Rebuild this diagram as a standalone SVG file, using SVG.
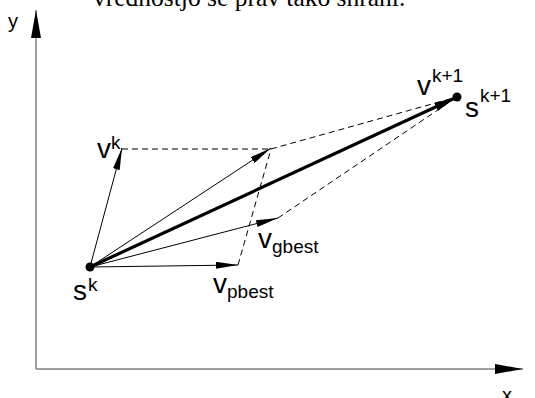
<svg xmlns="http://www.w3.org/2000/svg" width="535" height="398" viewBox="0 0 535 398">
<style>
.lbl{font-family:"Liberation Sans",Arial,sans-serif;font-size:28px;fill:#000}
.sup{font-size:19px}
.ax{font-family:"Liberation Sans",Arial,sans-serif;font-size:20px;fill:#000}
.thin{stroke:#000;stroke-width:1;fill:none}
.dash{stroke:#000;stroke-width:1;fill:none;stroke-dasharray:6 4}
.axis{stroke:#808080;stroke-width:1.5;fill:none}
</style>
<defs>
<marker id="ah" viewBox="0 0 22 7" refX="22" refY="3.5" markerWidth="22" markerHeight="7" markerUnits="userSpaceOnUse" orient="auto">
<path d="M0,0 L22,3.5 L0,7 Z" fill="#000"/>
</marker>
<marker id="ahT" viewBox="0 0 21 9" refX="21" refY="4.5" markerWidth="21" markerHeight="9" markerUnits="userSpaceOnUse" orient="auto">
<path d="M0,0 L21,4.5 L0,9 Z" fill="#000"/>
</marker>
<marker id="ahA" viewBox="0 0 28 10" refX="28" refY="5" markerWidth="28" markerHeight="10" markerUnits="userSpaceOnUse" orient="auto">
<path d="M0,0 L28,5 L0,10 Z" fill="#000"/>
</marker>
</defs>
<text x="93" y="6" font-family="'Liberation Serif','Times New Roman',serif" font-size="25.5" fill="#000">vrednostjo se prav tako shrani.</text>
<g id="axes">
<line class="axis" x1="36" y1="369" x2="36" y2="10" marker-end="url(#ahA)"/>
<line class="axis" x1="36" y1="369" x2="523" y2="369" marker-end="url(#ahA)"/>
<text class="ax" x="8" y="28">y</text>
<text class="ax" x="502" y="402">x</text>
</g>
<g id="connectors">
<line class="dash" x1="122" y1="149" x2="271" y2="149"/>
<line class="dash" x1="238" y1="265" x2="271" y2="149"/>
<line class="dash" x1="271" y1="149" x2="457" y2="97"/>
<line class="dash" x1="278" y1="218" x2="457" y2="97"/>
<line class="thin" x1="90" y1="267" x2="122" y2="148" marker-end="url(#ah)"/>
<line class="thin" x1="90" y1="267" x2="271" y2="148" marker-end="url(#ah)"/>
<line class="thin" x1="90" y1="267" x2="278" y2="218" marker-end="url(#ah)"/>
<line class="thin" x1="90" y1="267" x2="238" y2="265" marker-end="url(#ah)"/>
<line x1="90" y1="267" x2="455" y2="98" stroke="#000" stroke-width="3.2" marker-end="url(#ahT)"/>
</g>
<g id="node-sk">
<circle cx="90" cy="267" r="4.5" fill="#000"/>
<text class="lbl" x="73" y="300">s<tspan class="sup" dx="1" dy="-9">k</tspan></text>
</g>
<g id="node-sk1">
<circle cx="457" cy="97" r="4.5" fill="#000"/>
<text class="lbl" x="465" y="117">s<tspan class="sup" dx="1" dy="-15">k+1</tspan></text>
</g>
<g id="label-vk">
<text class="lbl" x="97" y="158">v<tspan class="sup" dy="-9">k</tspan></text>
</g>
<g id="label-vk1">
<text class="lbl" x="417" y="95">v<tspan class="sup" dx="1" dy="-13">k+1</tspan></text>
</g>
<g id="label-vgbest">
<text class="lbl" x="258" y="248">v<tspan class="sup" dy="5">gbest</tspan></text>
</g>
<g id="label-vpbest">
<text class="lbl" x="213" y="293">v<tspan class="sup" dy="5">pbest</tspan></text>
</g>
</svg>
